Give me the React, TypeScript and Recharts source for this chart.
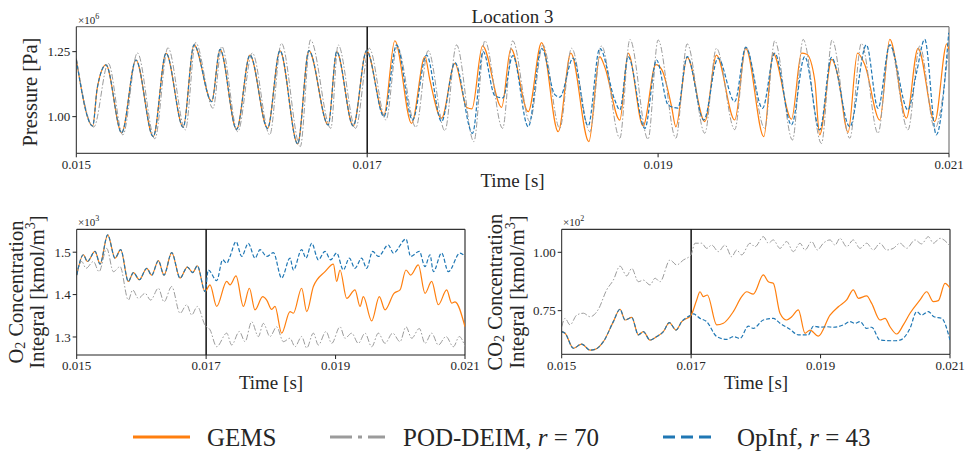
import React from "react";
import { LineChart, Line, XAxis, YAxis, ReferenceLine } from "recharts";

const FONT = "'Liberation Serif', 'DejaVu Serif', serif";
const TEXT = "#262626";
const ORANGE = "#ff7f0e";
const GRAY = "#9b9b9b";
const BLUE = "#1f77b4";

// time in ms, labels shown in seconds
const timeTicks = [15, 17, 19, 21];
const pressureTicks = [1.0, 1.25];
const o2Ticks = [1.3, 1.4, 1.5];
const co2Ticks = [0.75, 1.0];

// ---- pressure [x1e6 Pa] ----
const pShareT = [15.0, 15.113, 15.144, 15.204, 15.312, 15.41, 15.529, 15.617, 15.735, 15.809, 15.931, 15.988, 16.102, 16.194, 16.315, 16.4, 16.522, 16.599, 16.732, 16.79, 16.904, 16.996];
const pShareV = [1.22, 0.964, 1.11, 1.199, 0.938, 1.218, 0.923, 1.244, 0.959, 1.276, 1.058, 1.259, 0.951, 1.237, 0.955, 1.254, 0.895, 1.254, 0.968, 1.25, 0.964, 1.254];

const pGemsT = [17.115, 17.19, 17.305, 17.397, 17.431, 17.511, 17.603, 17.685, 17.72, 17.793, 17.924, 17.988, 18.107, 18.199, 18.313, 18.4, 18.524, 18.599, 18.634, 18.737, 18.794, 18.897, 18.984, 19.026, 19.092, 19.122, 19.2, 19.321, 19.401, 19.527, 19.603, 19.727, 19.79, 19.917, 19.986, 20.022, 20.077, 20.111, 20.194, 20.235, 20.306, 20.371, 20.421, 20.524, 20.593, 20.707, 20.787, 20.902, 20.985, 21.0];
const pGemsV = [1.006, 1.292, 0.974, 1.231, 1.141, 0.994, 1.205, 1.035, 1.03, 1.272, 1.036, 1.262, 1.019, 1.285, 0.942, 1.244, 0.904, 1.231, 1.19, 0.987, 1.244, 0.964, 1.2, 1.18, 1.04, 0.961, 1.228, 0.981, 1.237, 0.987, 1.263, 0.923, 1.244, 0.99, 1.244, 1.24, 1.14, 0.93, 1.22, 1.16, 0.939, 1.244, 1.2, 0.987, 1.297, 0.994, 1.263, 0.981, 1.28, 1.256];

const pOpInfT = [17.115, 17.202, 17.312, 17.408, 17.511, 17.603, 17.724, 17.797, 17.878, 17.933, 18.001, 18.107, 18.199, 18.29, 18.324, 18.416, 18.519, 18.599, 18.702, 18.737, 18.794, 18.909, 18.989, 19.069, 19.136, 19.2, 19.314, 19.412, 19.527, 19.603, 19.718, 19.802, 19.917, 20.008, 20.111, 20.192, 20.318, 20.432, 20.512, 20.593, 20.718, 20.776, 20.833, 20.913, 20.998];
const pOpInfV = [1.0, 1.276, 0.987, 1.237, 0.981, 1.208, 0.936, 1.25, 1.08, 1.072, 1.235, 0.961, 1.263, 1.085, 1.075, 1.225, 0.964, 1.263, 1.064, 1.026, 1.231, 0.955, 1.218, 1.045, 1.033, 1.231, 0.987, 1.225, 1.058, 1.267, 1.032, 1.244, 0.968, 1.231, 0.949, 1.228, 0.961, 1.276, 1.032, 1.276, 1.026, 1.167, 1.297, 0.93, 1.323];

const pPodT = [15.0, 15.12, 15.22, 15.32, 15.42, 15.54, 15.63, 15.75, 15.82, 15.94, 16.0, 16.11, 16.21, 16.33, 16.41, 16.54, 16.61, 16.75, 16.8, 16.92, 17.014, 17.129, 17.206, 17.335, 17.419, 17.534, 17.614, 17.733, 17.809, 17.931, 18.0, 18.118, 18.208, 18.324, 18.405, 18.531, 18.611, 18.737, 18.806, 18.931, 19.0, 19.122, 19.2, 19.321, 19.401, 19.527, 19.603, 19.733, 19.802, 19.924, 19.997, 20.123, 20.196, 20.318, 20.398, 20.512, 20.593, 20.718, 20.799, 20.902, 20.998];
const pPodV = [1.225, 0.96, 1.205, 0.93, 1.245, 0.915, 1.265, 0.949, 1.285, 1.032, 1.27, 0.942, 1.245, 0.93, 1.282, 0.885, 1.295, 0.955, 1.276, 0.955, 1.263, 0.987, 1.27, 0.959, 1.254, 0.946, 1.276, 0.904, 1.292, 0.955, 1.292, 0.981, 1.276, 0.955, 1.263, 0.942, 1.272, 0.917, 1.297, 0.913, 1.295, 0.917, 1.28, 0.936, 1.263, 0.95, 1.269, 0.955, 1.292, 0.91, 1.297, 0.897, 1.295, 0.917, 1.282, 0.936, 1.276, 0.949, 1.272, 0.955, 1.263];

// ---- O2 concentration integral [x1e3 kmol/m3] ----
const o2ShareT = [15.0, 15.103, 15.165, 15.283, 15.361, 15.479, 15.592, 15.68, 15.798, 15.876, 15.968, 16.082, 16.159, 16.262, 16.349, 16.468, 16.597, 16.71, 16.792, 16.864, 16.983];
const o2ShareV = [1.446, 1.494, 1.478, 1.502, 1.472, 1.541, 1.486, 1.506, 1.431, 1.452, 1.435, 1.462, 1.446, 1.48, 1.446, 1.499, 1.439, 1.465, 1.452, 1.468, 1.407];

const o2GemsT = [17.06, 17.163, 17.318, 17.369, 17.462, 17.575, 17.668, 17.755, 17.874, 17.936, 18.013, 18.064, 18.167, 18.296, 18.348, 18.476, 18.554, 18.657, 18.837, 18.966, 19.017, 19.069, 19.172, 19.3, 19.378, 19.429, 19.558, 19.676, 19.764, 19.903, 19.996, 20.088, 20.16, 20.279, 20.382, 20.485, 20.588, 20.717, 20.794, 20.845, 21.0];
const o2GemsV = [1.423, 1.372, 1.431, 1.423, 1.444, 1.372, 1.415, 1.364, 1.395, 1.387, 1.365, 1.372, 1.309, 1.36, 1.356, 1.415, 1.36, 1.419, 1.454, 1.472, 1.431, 1.458, 1.391, 1.411, 1.372, 1.395, 1.338, 1.395, 1.364, 1.403, 1.411, 1.458, 1.446, 1.47, 1.403, 1.431, 1.376, 1.411, 1.38, 1.383, 1.324];

const o2OpInfT = [17.034, 17.163, 17.256, 17.318, 17.369, 17.462, 17.549, 17.652, 17.755, 17.833, 17.936, 18.039, 18.167, 18.296, 18.348, 18.476, 18.543, 18.631, 18.734, 18.837, 18.924, 19.017, 19.12, 19.213, 19.3, 19.403, 19.481, 19.573, 19.661, 19.815, 19.893, 20.088, 20.16, 20.294, 20.382, 20.459, 20.511, 20.639, 20.742, 20.923, 21.0];
const o2OpInfV = [1.458, 1.433, 1.482, 1.474, 1.49, 1.525, 1.49, 1.521, 1.486, 1.506, 1.49, 1.499, 1.439, 1.486, 1.458, 1.506, 1.486, 1.521, 1.482, 1.502, 1.482, 1.498, 1.458, 1.486, 1.462, 1.486, 1.462, 1.502, 1.49, 1.517, 1.498, 1.531, 1.49, 1.502, 1.466, 1.494, 1.454, 1.498, 1.454, 1.498, 1.49];

const o2PodT = [15.0, 15.077, 15.144, 15.258, 15.345, 15.464, 15.567, 15.67, 15.798, 15.865, 15.953, 16.056, 16.143, 16.262, 16.349, 16.468, 16.597, 16.7, 16.777, 16.864, 16.983, 17.06, 17.163, 17.318, 17.395, 17.513, 17.601, 17.704, 17.807, 17.884, 17.987, 18.09, 18.193, 18.296, 18.373, 18.476, 18.554, 18.657, 18.734, 18.852, 18.94, 19.069, 19.146, 19.249, 19.352, 19.455, 19.558, 19.661, 19.764, 19.882, 19.996, 20.088, 20.176, 20.294, 20.382, 20.485, 20.588, 20.706, 20.82, 20.912, 21.0];
const o2PodV = [1.446, 1.478, 1.462, 1.478, 1.454, 1.509, 1.454, 1.466, 1.387, 1.411, 1.391, 1.403, 1.387, 1.415, 1.383, 1.419, 1.356, 1.376, 1.352, 1.372, 1.328, 1.317, 1.277, 1.309, 1.281, 1.313, 1.289, 1.336, 1.301, 1.332, 1.301, 1.324, 1.289, 1.297, 1.277, 1.301, 1.274, 1.309, 1.281, 1.313, 1.285, 1.324, 1.297, 1.309, 1.285, 1.309, 1.277, 1.309, 1.285, 1.309, 1.289, 1.324, 1.297, 1.32, 1.285, 1.309, 1.281, 1.301, 1.277, 1.301, 1.277];

// ---- CO2 concentration integral [x1e2 kmol/m3] ----
const co2ShareT = [15.0, 15.052, 15.18, 15.309, 15.438, 15.515, 15.644, 15.798, 15.901, 15.979, 16.082, 16.185, 16.262, 16.365, 16.468, 16.571, 16.663, 16.766, 16.854, 17.0];
const co2ShareV = [0.66, 0.653, 0.589, 0.607, 0.581, 0.584, 0.617, 0.703, 0.756, 0.71, 0.721, 0.646, 0.66, 0.624, 0.639, 0.66, 0.699, 0.667, 0.703, 0.731];

const co2GemsT = [17.086, 17.137, 17.189, 17.251, 17.395, 17.498, 17.652, 17.781, 17.858, 17.961, 18.116, 18.193, 18.27, 18.373, 18.476, 18.554, 18.657, 18.76, 18.837, 18.966, 19.146, 19.275, 19.403, 19.506, 19.584, 19.712, 19.79, 19.918, 19.996, 20.073, 20.176, 20.279, 20.382, 20.537, 20.64, 20.743, 20.82, 20.923, 21.0];
const co2GemsV = [0.796, 0.831, 0.81, 0.817, 0.689, 0.696, 0.746, 0.81, 0.831, 0.821, 0.903, 0.874, 0.867, 0.739, 0.71, 0.724, 0.753, 0.653, 0.667, 0.641, 0.731, 0.767, 0.796, 0.839, 0.803, 0.813, 0.781, 0.71, 0.717, 0.681, 0.65, 0.689, 0.739, 0.796, 0.831, 0.789, 0.793, 0.867, 0.846];

const co2OpInfT = [17.034, 17.137, 17.24, 17.395, 17.549, 17.652, 17.755, 17.884, 17.961, 18.116, 18.27, 18.373, 18.528, 18.657, 18.811, 18.888, 18.991, 19.094, 19.197, 19.352, 19.455, 19.532, 19.609, 19.712, 19.79, 19.918, 20.124, 20.227, 20.382, 20.485, 20.562, 20.665, 20.753, 20.871, 21.0];
const co2OpInfV = [0.736, 0.717, 0.703, 0.639, 0.627, 0.639, 0.631, 0.684, 0.674, 0.71, 0.717, 0.696, 0.67, 0.646, 0.646, 0.684, 0.679, 0.681, 0.679, 0.689, 0.703, 0.696, 0.703, 0.674, 0.679, 0.624, 0.621, 0.624, 0.674, 0.746, 0.731, 0.746, 0.724, 0.717, 0.624];

const co2PodT = [15.0, 15.052, 15.129, 15.232, 15.335, 15.438, 15.567, 15.695, 15.798, 15.901, 16.004, 16.082, 16.185, 16.262, 16.365, 16.442, 16.519, 16.674, 16.777, 16.88, 16.998, 17.06, 17.163, 17.24, 17.318, 17.421, 17.524, 17.627, 17.704, 17.781, 17.91, 17.987, 18.116, 18.193, 18.27, 18.373, 18.476, 18.579, 18.682, 18.76, 18.863, 18.95, 19.043, 19.146, 19.223, 19.3, 19.403, 19.506, 19.609, 19.712, 19.815, 19.918, 20.021, 20.124, 20.227, 20.33, 20.459, 20.562, 20.665, 20.743, 20.845, 21.0];
const co2PodV = [0.681, 0.717, 0.689, 0.731, 0.739, 0.724, 0.756, 0.839, 0.881, 0.941, 0.899, 0.931, 0.874, 0.881, 0.86, 0.889, 0.874, 0.967, 0.946, 0.967, 0.989, 1.039, 1.039, 1.017, 1.031, 1.003, 1.031, 0.981, 1.01, 0.989, 1.039, 1.024, 1.067, 1.039, 1.053, 1.017, 1.046, 1.003, 1.039, 1.01, 1.046, 1.01, 1.039, 1.053, 1.031, 1.06, 1.024, 1.053, 1.017, 1.039, 1.01, 1.039, 1.01, 1.017, 1.039, 1.017, 1.053, 1.036, 1.067, 1.039, 1.06, 1.027];

type Pt = { t: number; v: number };
const pts = (t: number[], v: number[]): Pt[] =>
  t.map((x, i) => ({ t: x, v: v[i] })).filter((p) => p.v !== undefined);

const fmtTime = (v: number) => (v / 1000).toFixed(3);
const tickStyle = { fill: TEXT, fontSize: 13, fontFamily: FONT };

type PanelProps = {
  width: number;
  height: number;
  margin: { top: number; right: number; bottom: number; left: number };
  yWidth: number;
  xHeight: number;
  yDomain: [number, number];
  yTicks: number[];
  yDigits: number;
  gems: Pt[];
  pod: Pt[];
  opinf: Pt[];
  frame: string;
};

const Panel = (p: PanelProps) => (
  <LineChart width={p.width} height={p.height} margin={p.margin}>
    <XAxis
      dataKey="t"
      type="number"
      domain={[15, 21]}
      ticks={timeTicks}
      tickFormatter={fmtTime}
      allowDataOverflow
      height={p.xHeight}
      tick={tickStyle}
      tickSize={4}
      tickMargin={2}
      stroke="#222"
    />
    <YAxis
      type="number"
      domain={p.yDomain}
      ticks={p.yTicks}
      tickFormatter={(v: number) => v.toFixed(p.yDigits)}
      allowDataOverflow
      width={p.yWidth}
      tick={tickStyle}
      tickSize={4}
      tickMargin={2}
      stroke="#222"
    />
    {/* top and right spines */}
    <ReferenceLine y={p.yDomain[1]} stroke={p.frame} strokeWidth={1.2} />
    <ReferenceLine x={21} stroke={p.frame} strokeWidth={1.2} />
    <ReferenceLine x={17} stroke="#111" strokeWidth={1.5} />
    <Line data={p.gems} dataKey="v" type="monotone" stroke={ORANGE} strokeWidth={1.2} dot={false} isAnimationActive={false} />
    <Line data={p.pod} dataKey="v" type="monotone" stroke={GRAY} strokeWidth={1} strokeDasharray="6 2 1.5 2" dot={false} isAnimationActive={false} />
    <Line data={p.opinf} dataKey="v" type="monotone" stroke={BLUE} strokeWidth={1.2} strokeDasharray="4 2" dot={false} isAnimationActive={false} />
  </LineChart>
);

const Rot = ({ x, y, size, children }: { x: number; y: number; size: number; children: React.ReactNode }) => (
  <text x={x} y={y} transform={`rotate(-90 ${x} ${y})`} textAnchor="middle" dominantBaseline="central" fontSize={size} fontFamily={FONT} fill={TEXT}>
    {children}
  </text>
);

const Txt = ({ x, y, size, anchor = "start", children }: { x: number; y: number; size: number; anchor?: string; children: React.ReactNode }) => (
  <text x={x} y={y} textAnchor={anchor as any} fontSize={size} fontFamily={FONT} fill={TEXT}>
    {children}
  </text>
);

export default function App() {
  const pShare = pts(pShareT, pShareV);
  const o2Share = pts(o2ShareT, o2ShareV);
  const co2Share = pts(co2ShareT, co2ShareV);
  return (
    <div style={{ position: "absolute", left: 0, top: 0, width: 967, height: 453, background: "#fff" }}>
      <div style={{ position: "absolute", left: 0, top: 0 }}>
        <Panel
          width={967}
          height={200}
          margin={{ top: 26.7, right: 18, bottom: 0, left: 0 }}
          yWidth={76.3}
          xHeight={46.7}
          yDomain={[0.859, 1.346]}
          yTicks={pressureTicks}
          yDigits={2}
          gems={[...pShare, ...pts(pGemsT, pGemsV)]}
          pod={pts(pPodT, pPodV)}
          opinf={[...pShare, ...pts(pOpInfT, pOpInfV)]}
          frame="#7a7a7a"
        />
      </div>
      <div style={{ position: "absolute", left: 0, top: 200 }}>
        <Panel
          width={480}
          height={200}
          margin={{ top: 29.3, right: 15, bottom: 0, left: 0 }}
          yWidth={76.7}
          xHeight={45}
          yDomain={[1.2575, 1.554]}
          yTicks={o2Ticks}
          yDigits={1}
          gems={[...o2Share, ...pts(o2GemsT, o2GemsV)]}
          pod={pts(o2PodT, o2PodV)}
          opinf={[...o2Share, ...pts(o2OpInfT, o2OpInfV)]}
          frame="#333"
        />
      </div>
      <div style={{ position: "absolute", left: 480, top: 200 }}>
        <Panel
          width={487}
          height={200}
          margin={{ top: 29.3, right: 17, bottom: 0, left: 0 }}
          yWidth={81.7}
          xHeight={45.7}
          yDomain={[0.563, 1.0986]}
          yTicks={co2Ticks}
          yDigits={2}
          gems={[...co2Share, ...pts(co2GemsT, co2GemsV)]}
          pod={pts(co2PodT, co2PodV)}
          opinf={[...co2Share, ...pts(co2OpInfT, co2OpInfV)]}
          frame="#333"
        />
      </div>
      <svg width={967} height={453} style={{ position: "absolute", left: 0, top: 0, pointerEvents: "none" }}>
        <Txt x={512.5} y={23} size={19} anchor="middle">Location 3</Txt>
        <Txt x={78} y={24} size={11}>×10<tspan dy={-5} fontSize={8}>6</tspan></Txt>
        <Rot x={30} y={92} size={20.5}>Pressure [Pa]</Rot>
        <Txt x={512.5} y={187} size={19} anchor="middle">Time [s]</Txt>

        <Txt x={78} y={226} size={11}>×10<tspan dy={-5} fontSize={8}>3</tspan></Txt>
        <Rot x={16} y={292} size={20.5}>O<tspan dy={4} fontSize={14}>2</tspan><tspan dy={-4}> Concentration</tspan></Rot>
        <Rot x={37} y={292} size={20.5}>Integral [kmol/m<tspan dy={-7} fontSize={14}>3</tspan><tspan dy={7}>]</tspan></Rot>
        <Txt x={271} y={389} size={19} anchor="middle">Time [s]</Txt>

        <Txt x={563} y={226} size={11}>×10<tspan dy={-5} fontSize={8}>2</tspan></Txt>
        <Rot x={495} y={292} size={20.5}>CO<tspan dy={4} fontSize={14}>2</tspan><tspan dy={-4}> Concentration</tspan></Rot>
        <Rot x={517} y={292} size={20.5}>Integral [kmol/m<tspan dy={-7} fontSize={14}>3</tspan><tspan dy={7}>]</tspan></Rot>
        <Txt x={756} y={389} size={19} anchor="middle">Time [s]</Txt>

        <line x1={133} y1={437} x2={190} y2={437} stroke={ORANGE} strokeWidth={3} />
        <Txt x={207} y={446} size={25}>GEMS</Txt>
        <line x1={330} y1={437} x2={385} y2={437} stroke={GRAY} strokeWidth={3} strokeDasharray="22 6 4 6" />
        <Txt x={403} y={446} size={25}>POD-DEIM, <tspan fontStyle="italic">r</tspan> = 70</Txt>
        <line x1={663} y1={437} x2={715} y2={437} stroke={BLUE} strokeWidth={3} strokeDasharray="12 6" />
        <Txt x={737} y={446} size={25}>OpInf, <tspan fontStyle="italic">r</tspan> = 43</Txt>
      </svg>
    </div>
  );
}
